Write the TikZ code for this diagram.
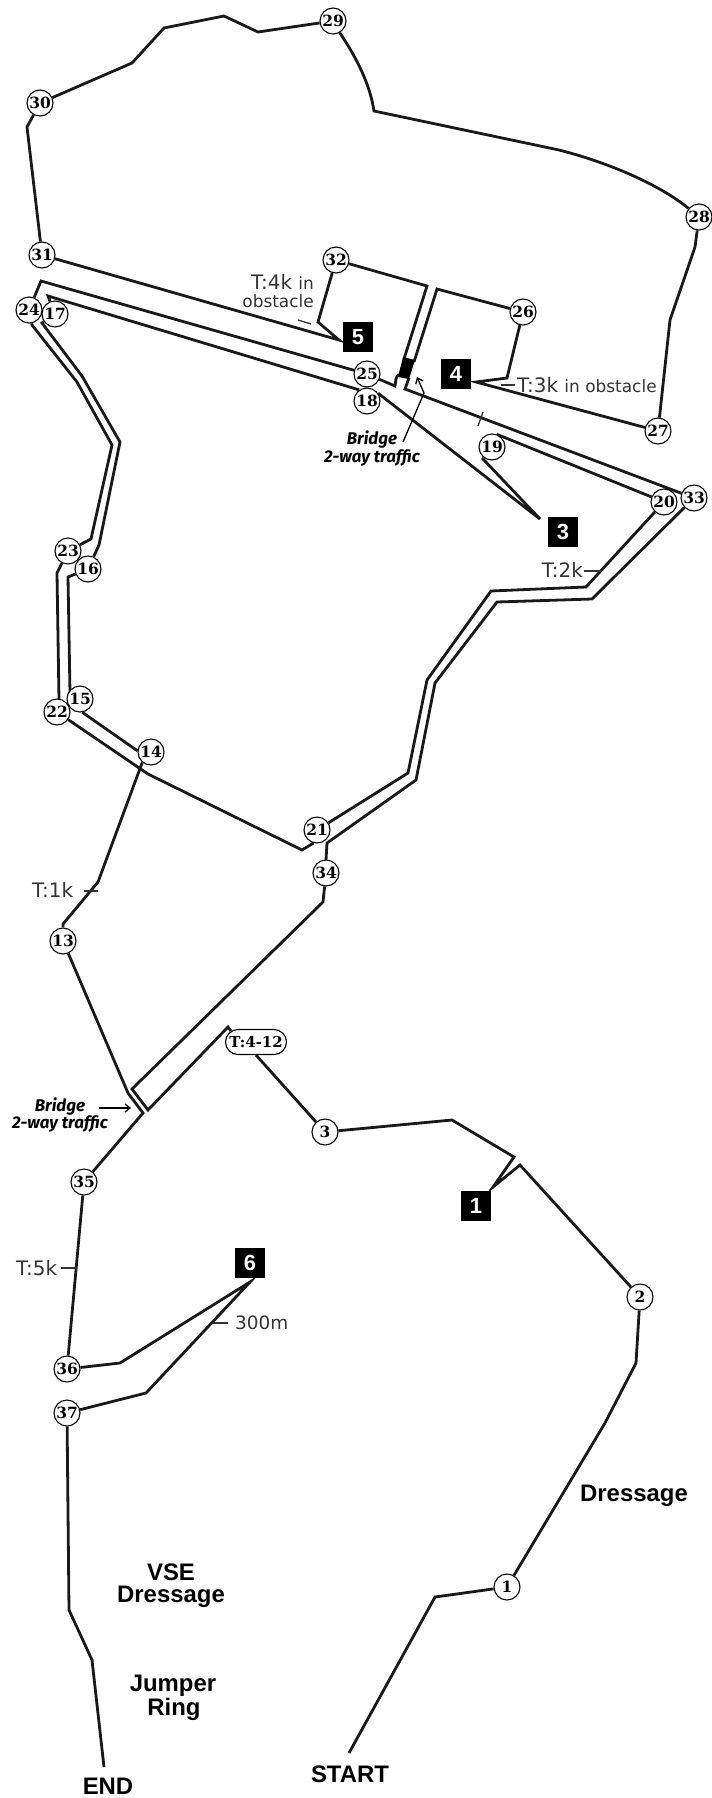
\documentclass[tikz,border=0pt]{standalone}
\usepackage{fontspec}
\setmainfont{DejaVu Sans}
\newfontfamily\numfont{DejaVu Serif}
\newfontfamily\bigfont{Liberation Sans}
\newfontfamily\brfont{Fira Sans}
\usetikzlibrary{arrows.meta}
\pgfdeclarelayer{bg}
\pgfsetlayers{bg,main}
\begin{document}
\begin{tikzpicture}[x=1bp,y=-1bp,
  road/.style={line width=2.8bp, black!90, line join=miter},
  num/.style={circle, draw=black, line width=1.1bp, fill=white, inner sep=0pt, minimum size=26bp, font=\numfont\bfseries\fontsize{15.5}{15.5}\selectfont},
  pill/.style={draw=black, rounded corners=12.5bp, line width=1.1bp, fill=white, minimum width=61bp, minimum height=25bp, inner xsep=3bp, inner ysep=0pt, font=\numfont\bfseries\fontsize{15}{15}\selectfont},
  obox/.style={fill=black, text=white, minimum size=30bp, inner sep=0pt, font=\bigfont\bfseries\fontsize{22}{22}\selectfont},
  tlbl/.style={text=black!80, inner sep=0pt, font=\fontsize{20}{20}\selectfont},
  big/.style={inner sep=0pt, font=\bigfont\bfseries\fontsize{24}{24}\selectfont},
  brl/.style={inner sep=0pt, font=\brfont\bfseries\itshape\fontsize{17}{17}\selectfont},
  tick/.style={line width=1.3bp, black!80},
  pointer/.style={line width=1.3bp, black, -{Straight Barb[length=5bp,width=8bp]}}
]
\useasboundingbox (0,0) rectangle (712,1798);

% numbered markers
\node[num] (n1) at (507,1587) {1};
\node[num] (n2) at (640,1297) {2};
\node[num] (n3) at (325,1132) {3};
\node[num] (n13) at (63,941) {13};
\node[num] (n14) at (151,752) {14};
\node[num] (n15) at (80,699) {15};
\node[num] (n16) at (88,569) {16};
\node[num] (n17) at (55,314) {17};
\node[num] (n18) at (367,401) {18};
\node[num] (n19) at (492,447) {19};
\node[num] (n20) at (664,502) {20};
\node[num] (n21) at (317,830) {21};
\node[num] (n22) at (57,712) {22};
\node[num] (n23) at (68,551) {23};
\node[num] (n24) at (29,310) {24};
\node[num] (n25) at (367,374) {25};
\node[num] (n26) at (523,312) {26};
\node[num] (n27) at (658,431) {27};
\node[num] (n28) at (699,217) {28};
\node[num] (n29) at (333,21) {29};
\node[num] (n30) at (40,103) {30};
\node[num] (n31) at (42,255) {31};
\node[num] (n32) at (336,260) {32};
\node[num] (n33) at (694,498) {33};
\node[num] (n34) at (326,873) {34};
\node[num] (n35) at (84,1182) {35};
\node[num] (n36) at (67,1369) {36};
\node[num] (n37) at (67,1413) {37};
\node[pill] (t412) at (256,1042) {T:4-12};

% obstacle boxes
\node[obox] (b1) at (476,1206) {1};
\node[obox] (b3) at (563,532) {3};
\node[obox] (b4) at (456,374) {4};
\node[obox] (b5) at (358,337) {5};
\node[obox] (b6) at (250,1263) {6};

% pointer tips and free ends
\coordinate (tip1) at (493,1187);
\coordinate (tip3) at (540,519);
\coordinate (tip4) at (476,382);
\coordinate (tip5) at (339,340);
\coordinate (tip6) at (250,1282);
\coordinate (startpt) at (349,1753);
\coordinate (endpt) at (104,1767);
\coordinate (arr1s) at (403,442);
\coordinate (arr1t) at (417,377);
\coordinate (arr2s) at (99,1108);
\coordinate (arr2t) at (131,1108);

% labels
\node[big] (lstart) at (350,1774) {START};
\node[big] (lend) at (108,1786) {END};
\node[big] (ldr) at (634,1496) {Dressage};
\node[big] (lvse1) at (171,1572) {VSE};
\node[big] (lvse2) at (171,1597) {Dressage};
\node[big] (ljr1) at (173,1686) {Jumper};
\node[big] (ljr2) at (174,1709) {Ring};

\node[tlbl, anchor=east] (l4k) at (314,282) {T:4k {\fontsize{17}{17}\selectfont in}};
\node[tlbl, anchor=east, font=\fontsize{17}{17}\selectfont] (l4kb) at (314,301) {obstacle};
\node[tlbl, anchor=west] (l3k) at (517,385) {T:3k {\fontsize{17}{17}\selectfont in obstacle}};
\node[tlbl, anchor=east] (l2k) at (583,570) {T:2k};
\node[tlbl, anchor=west] (l1k) at (32,890) {T:1k};
\node[tlbl, anchor=west] (l5k) at (16,1268) {T:5k};
\node[tlbl, anchor=west, font=\fontsize{18.5}{18.5}\selectfont] (l300) at (235,1323) {300m};

\node[brl] (br1a) at (372,440) {Bridge};
\node[brl] (br1b) at (372,458) {2-way traffic};
\node[brl] (br2a) at (60,1107) {Bridge};
\node[brl] (br2b) at (60,1124) {2-way traffic};

\begin{pgfonlayer}{bg}
% start to 3
\draw[road] (startpt) -- (435,1597) -- (n1);
\draw[road] (n1) -- (605,1423) -- (636,1363) -- (n2);
\draw[road] (n2) -- (520,1165) -- (tip1) -- (514,1157) -- (452,1120) -- (n3);
\draw[road] (n3) -- (t412.south);
% lower bridge
\draw[road] (n34) -- (323,902) -- (132,1089) -- (148,1110) -- (228,1027) -- (231,1031);
\draw[road] (n13) -- (128,1093) -- (143,1113) -- (n35);
\draw[road] (n35) -- (n36);
\draw[road] (n36) -- (120,1363) -- (tip6) -- (146,1393) -- (n37);
\draw[road] (n37) -- (69,1610) -- (92,1660) -- (endpt);
% 13 - 14
\draw[road] (n14.-130) -- (98,882) -- (63,924) -- (n13);
\draw[road] (n15.-80) -- (n14.175);
\draw[road] (n22) -- (148,774) -- (302,850) -- (n21.-105);
% left double line
\draw[road] (n25) -- (41,281) -- (n24);
\draw[road] (n24) -- (32,325) -- (77,382) -- (112,445) -- (91,539) -- (n23);
\draw[road] (n23) -- (57,573) -- (59,700) -- (n22);
\draw[road] (n18.125) -- (48,296) -- (n17);
\draw[road] (n17) -- (42,323) -- (82,376) -- (120,442) -- (99,545) -- (n16);
\draw[road] (n16) -- (68,577) -- (70,693) -- (n15);
% right double line
\draw[road] (n20) -- (586,587) -- (491,591) -- (427,680) -- (408,773) -- (n21);
\draw[road] (n33) -- (592,599) -- (497,602) -- (435,683) -- (416,780) -- (327,843) -- (326,860) -- (n34);
% 18 - 3 - 19 - 20
\draw[road] (n18.35) -- (tip3) -- (483,459) -- (n19);
\draw[road] (n19.70) -- (n20);
% road under the bridge
\draw[road] (n25) -- (395,386) -- (396,379) .. controls (397,375) and (399,374) .. (401,375);
\draw[road] (409,378) -- (405,389) -- (n33);
% upper bridge
\draw[road] (n32) -- (427,286) -- (404,359);
\draw[road] (n26) -- (437,289) -- (414,362);
\fill[black] (403,357) -- (415,360) -- (409,379) -- (398,377) -- cycle;
% upper loop
\draw[road] (n26) -- (507,378) -- (tip4) -- (n27);
\draw[road] (n27) -- (670,320) -- (695,247) -- (n28);
\draw[road] (n28) .. controls (660,185) and (610,163) .. (559,150) -- (374,111) .. controls (370,85) and (358,60) .. (n29.-60);
\draw[road] (n29) -- (258,32) -- (224,16) -- (164,28) -- (132,63) -- (n30);
\draw[road] (n30) -- (27,127) -- (n31);
\draw[road] (n31) -- (tip5) -- (318,322) -- (n32);
\end{pgfonlayer}

% ticks
\draw[tick] (298,320) -- (311,324);
\draw[tick] (501,385) -- (515,385);
\draw[tick] (483,412) -- (478,426);
\draw[tick] (584,571) -- (601,571);
\draw[tick] (84,891) -- (98,891);
\draw[tick] (61,1268) -- (77,1268);
\draw[tick] (213,1323) -- (228,1323);

% bridge pointers
\draw[pointer] (arr1s) -- (424,393) -- (arr1t);
\draw[pointer] (arr2s) -- (arr2t);
\end{tikzpicture}
\end{document}
